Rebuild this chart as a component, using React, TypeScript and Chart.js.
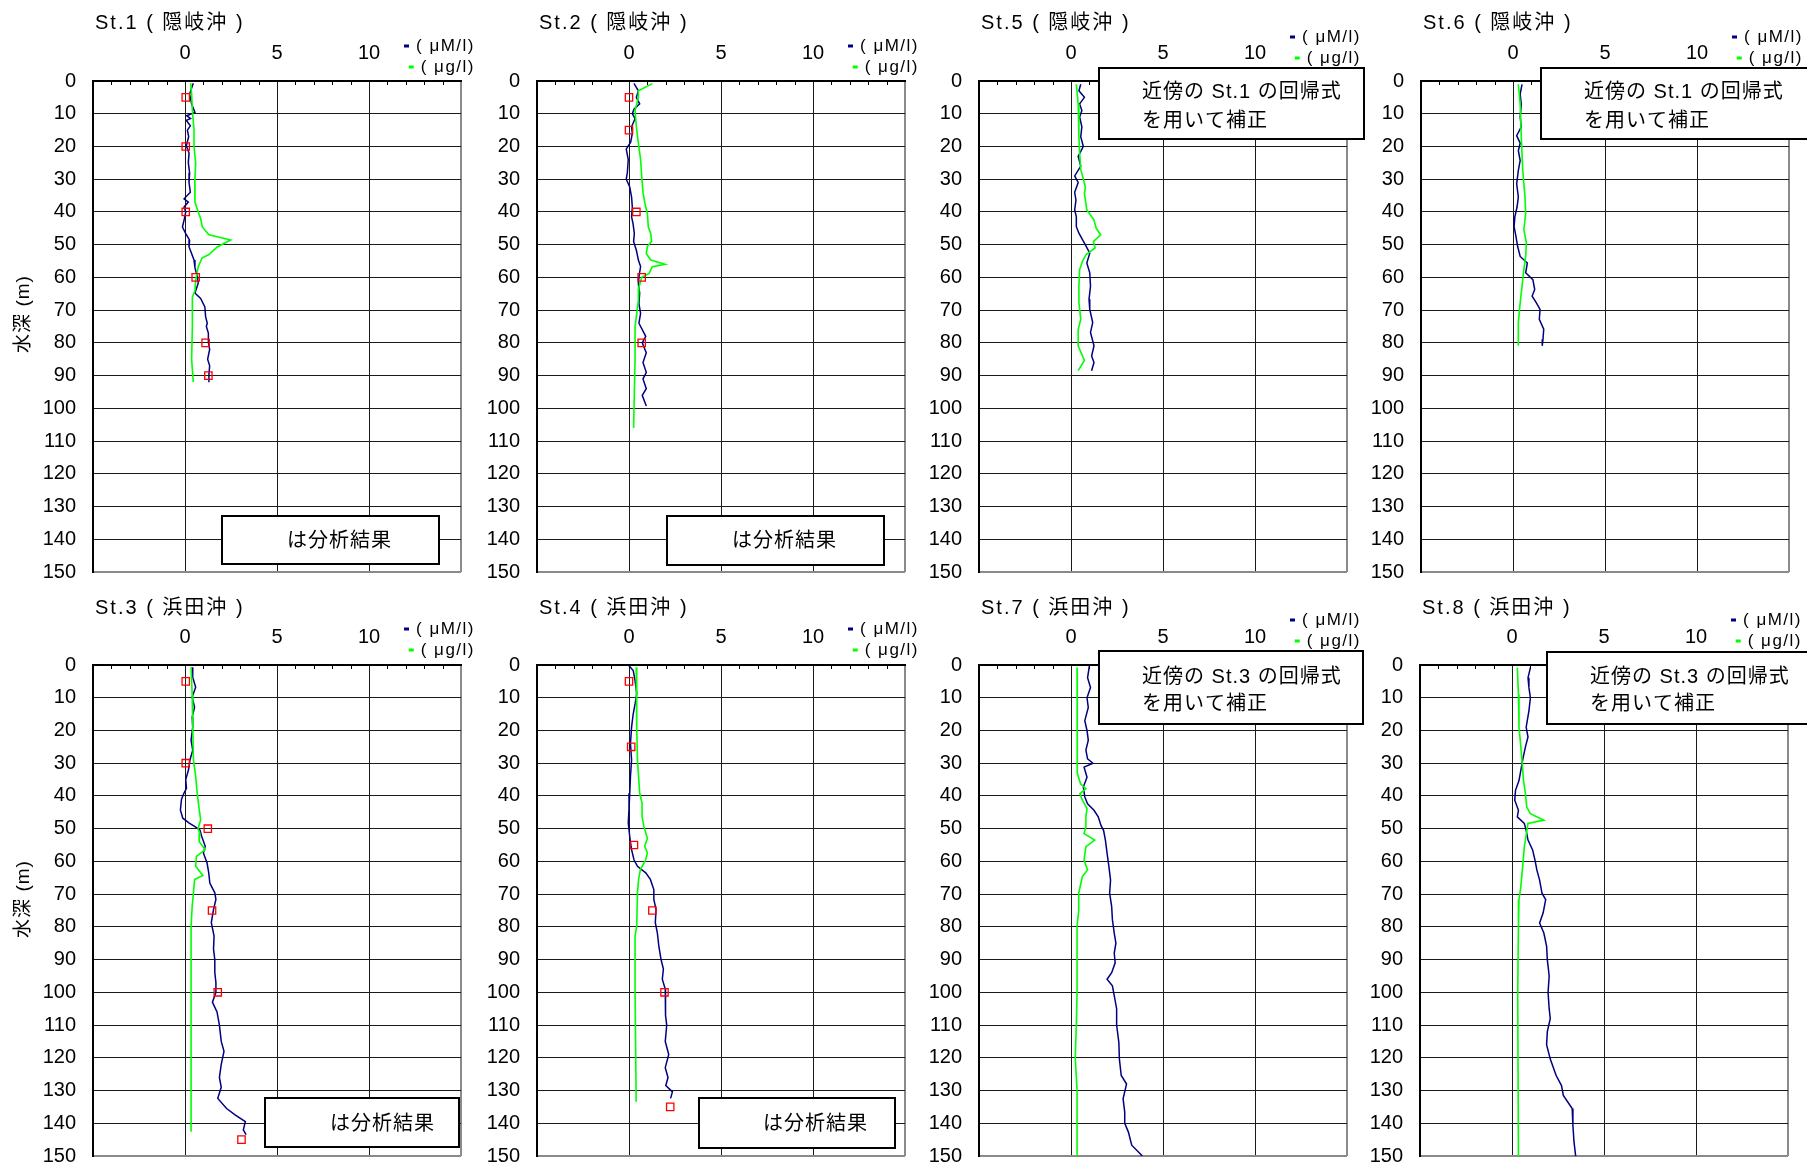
import React, { useEffect, useRef } from 'react';
import { Chart, registerables } from 'chart.js';

Chart.register(...registerables);

// ---------------- data ----------------
const xLabelValues = [0, 5, 10];
const depthStep = 10;
const depthAxisTitle = '水深 (m)';
const legendLabels = ['( μM/l)', '( μg/l)'];
const stationTitles = [
  'St.1 ( 隠岐沖 )', 'St.2 ( 隠岐沖 )', 'St.5 ( 隠岐沖 )', 'St.6 ( 隠岐沖 )',
  'St.3 ( 浜田沖 )', 'St.4 ( 浜田沖 )', 'St.7 ( 浜田沖 )', 'St.8 ( 浜田沖 )',
];
const analysisNote = ['は分析結果'];
const regressNoteSt1 = ['近傍の St.1 の回帰式', 'を用いて補正'];
const regressNoteSt3 = ['近傍の St.3 の回帰式', 'を用いて補正'];

// St.1
const st1BlueDepth = [0.7, 4, 7, 9.6, 10.6, 11.5, 12, 13.7, 15, 17, 19.8, 22, 25, 28, 31, 34, 36, 37, 38.5, 40, 42.5, 44.6, 46.6, 48.6, 50.7, 52, 54.7, 57, 59.8, 61.8, 64.8, 66.4, 69, 72, 74, 75, 77, 79.8, 82, 85, 87, 89.7, 92];
const st1BlueValue = [0.45, 0.25, 0.36, 0.54, 0.09, 0.3, 0.07, 0.29, 0.13, 0.2, 0.07, 0.22, 0.18, 0.25, 0.22, 0.29, -0.05, 0.18, -0.05, 0.04, -0.05, -0.14, 0.04, 0.25, 0.22, 0.31, 0.49, 0.54, 0.67, 0.72, 0.54, 0.85, 1.08, 1.12, 1.21, 1.16, 1.27, 1.27, 1.34, 1.23, 1.34, 1.3, 1.3];
const st1GreenDepth = [0.7, 4, 9, 15, 20, 25, 31, 37, 40, 42, 44.6, 47, 48.6, 50.7, 53, 54, 56.7, 61, 64, 66, 75, 85, 92];
const st1GreenValue = [0.31, 0.36, 0.4, 0.49, 0.49, 0.58, 0.53, 0.54, 0.72, 0.85, 0.94, 1.3, 2.48, 1.75, 1.3, 0.94, 0.72, 0.58, 0.54, 0.4, 0.4, 0.36, 0.45];
const st1SampleDepth = [5, 20, 40, 60, 80, 90];
const st1SampleValue = [0.04, 0.04, 0.04, 0.58, 1.12, 1.27];

// St.2
const st2BlueDepth = [0.7, 3, 5, 7, 8.6, 10, 11.5, 14, 16, 18.7, 20.8, 24, 28, 30, 32.4, 35.5, 38.5, 41.5, 43.6, 46.6, 49, 51.7, 54.7, 56.7, 59.8, 62, 64.8, 68, 71, 74, 78, 80, 83, 86, 89, 91, 94, 96, 99.3];
const st2BlueValue = [0.27, 0.51, 0.4, 0.58, 0.27, 0.18, 0.33, 0.14, 0.18, 0.09, -0.15, -0.04, -0.09, -0.15, 0.04, 0.14, 0.18, 0.14, 0.22, 0.29, 0.25, 0.4, 0.51, 0.63, 0.54, 0.51, 0.58, 0.54, 0.63, 0.54, 0.91, 0.72, 0.94, 0.76, 0.94, 0.76, 0.94, 0.72, 0.94];
const st2GreenDepth = [0.8, 3, 5, 9, 14, 19, 24, 29, 34, 37.5, 40.5, 44.6, 46.6, 49, 50.5, 52.7, 54.7, 56, 56.7, 58.8, 60, 63, 66.9, 72, 75, 80, 85, 95, 106];
const st2GreenValue = [1.27, 0.51, 0.51, 0.33, 0.4, 0.51, 0.63, 0.69, 0.76, 0.87, 1.0, 1.05, 1.18, 1.23, 1.0, 0.94, 1.18, 1.96, 1.27, 1.09, 0.69, 0.54, 0.51, 0.4, 0.33, 0.33, 0.33, 0.29, 0.25];
const st2SampleDepth = [5, 15, 40, 60, 80];
const st2SampleValue = [0, 0, 0.4, 0.69, 0.69];

// St.5
const st5BlueDepth = [1, 3, 5, 7, 9, 11, 14, 17, 20, 23, 26, 29, 31, 34, 36.4, 39.4, 41.5, 44.5, 46.5, 49.5, 52.6, 55.6, 58.6, 62.7, 66.7, 69.8, 73.8, 76.8, 80.9, 84, 86, 88.5];
const st5BlueValue = [0.53, 0.43, 0.73, 0.47, 0.59, 0.47, 0.59, 0.53, 0.67, 0.39, 0.53, 0.2, 0.39, 0.2, 0.27, 0.2, 0.29, 0.29, 0.43, 0.73, 1.02, 0.86, 1.02, 1.06, 0.98, 1.02, 1.18, 1.06, 1.25, 1.12, 1.25, 1.12];
const st5GreenDepth = [1, 7, 17, 22, 27, 32.4, 34.4, 39.4, 42.5, 45, 47, 49, 51, 53, 55, 57.6, 62.7, 67.7, 72.8, 76, 80.9, 85.4, 88.5];
const st5GreenValue = [0.29, 0.39, 0.43, 0.47, 0.53, 0.78, 0.73, 0.86, 1.25, 1.37, 1.61, 1.22, 1.31, 0.82, 0.63, 0.47, 0.43, 0.43, 0.53, 0.39, 0.39, 0.73, 0.39];

// St.6
const st6BlueDepth = [1, 4, 7, 11, 14, 16.7, 19, 21.3, 24.3, 27.3, 31.4, 35.4, 38.5, 41.5, 44.5, 47.5, 50.5, 53.6, 55.6, 58.6, 60.7, 63.7, 65.7, 67.8, 69.8, 72.8, 75.8, 78.9, 80.9];
const st6BlueValue = [0.49, 0.39, 0.45, 0.39, 0.45, 0.2, 0.39, 0.29, 0.39, 0.29, 0.2, 0.29, 0.22, 0.1, 0.06, 0.16, 0.25, 0.39, 0.78, 0.69, 1.08, 1.18, 1.04, 1.27, 1.47, 1.43, 1.67, 1.63, 1.59];
const st6GreenDepth = [1, 7, 17, 27.3, 35.4, 40.4, 45.5, 49.5, 53.6, 57.6, 62.7, 67.7, 73.8, 80.9];
const st6GreenValue = [0.29, 0.39, 0.45, 0.53, 0.65, 0.69, 0.59, 0.73, 0.69, 0.59, 0.49, 0.39, 0.29, 0.29];

// St.3
const st3BlueDepth = [0.7, 3.7, 6.8, 9.8, 12.9, 15.9, 19, 23, 26, 29, 32, 35, 37.7, 39.2, 41, 44.3, 46.8, 48.3, 49.3, 50.4, 52.4, 55.4, 57.4, 60.5, 63.5, 66.6, 69.6, 71.6, 74.7, 78.7, 82.8, 86.8, 90, 94, 97, 100, 103, 106, 110, 115, 118, 122, 126, 129, 132.4, 135.5, 137.5, 139.5, 142, 143.5];
const st3BlueValue = [0.39, 0.42, 0.58, 0.39, 0.52, 0.39, 0.42, 0.33, 0.42, 0.27, 0.19, 0.04, 0.08, -0.06, -0.19, -0.25, -0.12, 0.23, 0.52, 0.81, 0.91, 1.1, 1.0, 1.2, 1.29, 1.35, 1.62, 1.68, 1.55, 1.43, 1.58, 1.55, 1.62, 1.62, 1.68, 1.68, 1.49, 1.74, 1.87, 1.97, 2.12, 1.97, 1.87, 1.97, 1.78, 2.26, 2.74, 3.28, 3.17, 3.32];
const st3GreenDepth = [0.7, 9, 19, 29, 34, 39, 44, 47.3, 50, 51.5, 54, 56.4, 58.5, 61.5, 64.3, 65.5, 69.6, 73.7, 80, 90, 100, 120, 142.6];
const st3GreenValue = [0.33, 0.39, 0.42, 0.46, 0.58, 0.66, 0.77, 0.85, 0.71, 0.81, 0.77, 1.1, 0.62, 0.58, 0.97, 0.52, 0.46, 0.39, 0.33, 0.33, 0.33, 0.33, 0.33];
const st3SampleDepth = [5, 30, 50, 75, 100, 145];
const st3SampleValue = [0.04, 0.04, 1.24, 1.47, 1.78, 3.07];

// St.4
const st4BlueDepth = [0.2, 1.7, 4.8, 8.8, 11.9, 14.9, 19, 24, 29, 34, 39.2, 44, 48.3, 52.4, 56.4, 59.5, 61.5, 63.5, 65.5, 68.6, 71.6, 74.7, 78.7, 81.8, 85.8, 89.9, 92.9, 96, 99, 103, 107, 110, 115, 119, 123, 126, 128.5, 130.4, 132.4];
const st4BlueValue = [0, 0.23, 0.33, 0.42, 0.33, 0.23, 0.14, 0.08, 0.14, 0.08, 0.04, 0, -0.04, 0.04, 0.14, 0.27, 0.46, 0.91, 1.16, 1.35, 1.35, 1.47, 1.43, 1.54, 1.62, 1.74, 1.87, 1.81, 1.97, 1.97, 2.0, 2.05, 1.97, 2.16, 1.97, 2.12, 2.0, 2.36, 2.26];
const st4GreenDepth = [0.7, 8.8, 19, 29, 39, 42.3, 46.3, 49.3, 53, 55.4, 57.4, 59.5, 62.5, 65.5, 69.6, 79.7, 82.8, 100, 133.4];
const st4GreenValue = [0.39, 0.42, 0.42, 0.46, 0.58, 0.71, 0.71, 0.81, 1.0, 0.85, 1.0, 0.91, 0.62, 0.52, 0.46, 0.42, 0.33, 0.33, 0.39];
const st4SampleDepth = [5, 25, 55, 75, 100, 135];
const st4SampleValue = [0, 0.12, 0.27, 1.27, 1.93, 2.24];

// St.7
const st7BlueDepth = [0.3, 3.9, 6.9, 10, 13, 17, 20, 23, 26, 28.7, 30, 31.2, 34.3, 37.3, 40.3, 42.4, 44.4, 46.4, 49, 50.5, 53.5, 57.5, 61.6, 65.7, 69.7, 73.8, 77.8, 81.9, 85, 88, 91, 94, 96, 98, 101, 105, 110, 115.3, 120.4, 125.4, 128, 132.5, 136.6, 140, 142.7, 146.7, 150];
const st7BlueValue = [1.0, 0.9, 1.06, 0.87, 0.94, 0.75, 0.87, 0.94, 0.81, 0.9, 1.19, 0.71, 0.87, 0.67, 0.75, 0.9, 1.25, 1.48, 1.63, 1.77, 1.87, 1.96, 2.06, 2.15, 2.1, 2.21, 2.25, 2.35, 2.44, 2.35, 2.4, 2.21, 1.96, 2.25, 2.35, 2.48, 2.48, 2.6, 2.63, 2.73, 3.02, 2.83, 2.92, 2.92, 3.12, 3.3, 3.88];
const st7GreenDepth = [0.8, 10, 20, 27, 33, 36.3, 37.8, 39.3, 41.3, 43.9, 46.4, 49.4, 51.5, 53.5, 55.5, 59.6, 62.6, 64.6, 69.7, 75, 79.8, 90, 100, 110, 120, 130, 150];
const st7GreenValue = [0.33, 0.33, 0.33, 0.33, 0.37, 0.52, 0.81, 0.48, 0.62, 0.87, 0.81, 0.81, 0.71, 1.29, 0.81, 0.71, 0.9, 0.62, 0.42, 0.42, 0.33, 0.33, 0.33, 0.29, 0.23, 0.33, 0.33];

// St.8
const st8BlueDepth = [0.8, 3.9, 6.9, 10, 14, 19, 22, 25, 29, 32.2, 35.3, 38.3, 41.3, 44.4, 46.4, 48.4, 50.5, 53.5, 56.5, 59.6, 62.6, 65.7, 69.7, 71.7, 75.8, 78.8, 81.9, 85.9, 90, 95, 100, 105, 108, 112, 116, 120.4, 125.4, 128.5, 131.5, 135.5, 140.6, 145.7, 150];
const st8BlueValue = [1.0, 0.87, 0.92, 1.0, 0.92, 0.77, 0.87, 0.73, 0.58, 0.48, 0.38, 0.19, 0.15, 0.35, 0.29, 0.67, 0.77, 0.87, 1.12, 1.25, 1.35, 1.5, 1.63, 1.83, 1.69, 1.5, 1.73, 1.88, 1.92, 2.02, 1.96, 2.02, 2.08, 1.92, 1.88, 2.08, 2.4, 2.69, 2.79, 3.27, 3.31, 3.37, 3.46];
const st8GreenDepth = [0.8, 9, 19, 25, 29, 35, 39.3, 43.4, 45.4, 47.4, 48.4, 50.5, 55.5, 61.6, 67.7, 71.7, 79.8, 100, 150];
const st8GreenValue = [0.29, 0.35, 0.38, 0.48, 0.54, 0.62, 0.73, 0.8, 1.0, 1.73, 0.87, 0.81, 0.67, 0.58, 0.48, 0.38, 0.35, 0.31, 0.35];

// ---------------- layout ----------------
const FONT = '"Liberation Sans", "Noto Sans CJK JP", sans-serif';
const PLOT_W = 368;
const PLOT_H = 494;
const AXIS_L = 93;
const AXIS_T = 80;
const CANVAS_W = 480;
const CANVAS_H = 600;

type Callout = { x1: number; y1: number; x2: number; y2: number; tx: number; lines: string[]; ly: number[] };
type PanelDef = {
  title: string; left: number; top: number; titleY: number;
  blue: [number[], number[]]; green: [number[], number[]]; red?: [number[], number[]];
  legendY: [number, number]; callout: Callout; yTitleY?: number;
};

const panels: PanelDef[] = [
  { title: stationTitles[0], left: 93, top: 81, titleY: 23, yTitleY: 314, blue: [st1BlueDepth, st1BlueValue], green: [st1GreenDepth, st1GreenValue], red: [st1SampleDepth, st1SampleValue], legendY: [46, 67],
    callout: { x1: 129, y1: 516, x2: 346, y2: 564, tx: 194, lines: analysisNote, ly: [541] } },
  { title: stationTitles[1], left: 537, top: 81, titleY: 23, blue: [st2BlueDepth, st2BlueValue], green: [st2GreenDepth, st2GreenValue], red: [st2SampleDepth, st2SampleValue], legendY: [46, 67],
    callout: { x1: 130, y1: 516, x2: 347, y2: 565, tx: 195, lines: analysisNote, ly: [541] } },
  { title: stationTitles[2], left: 979, top: 81, titleY: 23, blue: [st5BlueDepth, st5BlueValue], green: [st5GreenDepth, st5GreenValue], legendY: [37, 58],
    callout: { x1: 120, y1: 68, x2: 385, y2: 139, tx: 163, lines: regressNoteSt1, ly: [92, 121] } },
  { title: stationTitles[3], left: 1421, top: 81, titleY: 23, blue: [st6BlueDepth, st6BlueValue], green: [st6GreenDepth, st6GreenValue], legendY: [37, 58],
    callout: { x1: 120, y1: 68, x2: 392, y2: 139, tx: 163, lines: regressNoteSt1, ly: [92, 121] } },
  { title: stationTitles[4], left: 93, top: 665, titleY: 608, yTitleY: 899, blue: [st3BlueDepth, st3BlueValue], green: [st3GreenDepth, st3GreenValue], red: [st3SampleDepth, st3SampleValue], legendY: [629, 650],
    callout: { x1: 172, y1: 1098, x2: 366, y2: 1147, tx: 237, lines: analysisNote, ly: [1124] } },
  { title: stationTitles[5], left: 537, top: 665, titleY: 608, blue: [st4BlueDepth, st4BlueValue], green: [st4GreenDepth, st4GreenValue], red: [st4SampleDepth, st4SampleValue], legendY: [629, 650],
    callout: { x1: 162, y1: 1098, x2: 358, y2: 1148, tx: 226, lines: analysisNote, ly: [1124] } },
  { title: stationTitles[6], left: 979, top: 665, titleY: 608, blue: [st7BlueDepth, st7BlueValue], green: [st7GreenDepth, st7GreenValue], legendY: [620, 641],
    callout: { x1: 120, y1: 651, x2: 384, y2: 724, tx: 163, lines: regressNoteSt3, ly: [677, 704] } },
  { title: stationTitles[7], left: 1420, top: 665, titleY: 608, blue: [st8BlueDepth, st8BlueValue], green: [st8GreenDepth, st8GreenValue], legendY: [620, 641],
    callout: { x1: 127, y1: 652, x2: 392, y2: 724, tx: 170, lines: regressNoteSt3, ly: [677, 704] } },
];

const zip = (depths: number[], values: number[]) => depths.map((d, i) => ({ x: values[i], y: d }));

function buildConfig(p: PanelDef): any {
  const oy = p.top - AXIS_T;
  const decor = {
    id: 'decor',
    afterDraw(chart: any) {
      const ctx = chart.ctx as CanvasRenderingContext2D;
      const xs = chart.scales.x;
      const area = chart.chartArea;
      ctx.save();
      // minor ticks on the top axis, pointing into the plot
      ctx.strokeStyle = '#000';
      ctx.lineWidth = 1;
      for (let v = -4; v < 15; v++) {
        if (v % 5 === 0) continue;
        const px = Math.round(xs.getPixelForValue(v)) + 0.5;
        ctx.beginPath();
        ctx.moveTo(px, area.top);
        ctx.lineTo(px, area.top + 4);
        ctx.stroke();
      }
      // title
      ctx.fillStyle = '#000';
      ctx.textBaseline = 'middle';
      ctx.textAlign = 'left';
      ctx.font = `20px ${FONT}`;
      (ctx as any).letterSpacing = '2px';
      ctx.fillText(p.title, AXIS_L + 2, p.titleY - oy);
      // depth axis title (first column only)
      if (p.yTitleY !== undefined) {
        ctx.save();
        ctx.font = `19px ${FONT}`;
        (ctx as any).letterSpacing = '1px';
        ctx.translate(24, p.yTitleY - oy);
        ctx.rotate(-Math.PI / 2);
        ctx.textAlign = 'center';
        ctx.fillText(depthAxisTitle, 0, 0);
        ctx.restore();
      }
      // legend
      ctx.font = `17px ${FONT}`;
      (ctx as any).letterSpacing = '1.5px';
      ctx.textAlign = 'left';
      const rightX = area.right + 14;
      const colors = ['#000080', '#00ff00'];
      legendLabels.forEach((lab, i) => {
        const w = ctx.measureText(lab).width;
        const sx = rightX - w;
        const y = p.legendY[i] - oy;
        ctx.fillStyle = colors[i];
        ctx.fillRect(sx - 12, y - 1.5, 5, 3);
        ctx.fillStyle = '#000';
        ctx.fillText(lab, sx, y);
      });
      // callout box
      const c = p.callout;
      const bx = AXIS_L + c.x1;
      const by = c.y1 - oy;
      const bw = c.x2 - c.x1;
      const bh = c.y2 - c.y1;
      ctx.fillStyle = '#fff';
      ctx.fillRect(bx, by, bw, bh);
      ctx.strokeStyle = '#000';
      ctx.lineWidth = 2;
      ctx.strokeRect(bx, by, bw, bh);
      ctx.fillStyle = '#000';
      ctx.font = `20px ${FONT}`;
      (ctx as any).letterSpacing = '1px';
      c.lines.forEach((ln, i) => {
        ctx.fillText(ln, AXIS_L + c.tx, c.ly[i] - oy);
      });
      (ctx as any).letterSpacing = '0px';
      ctx.restore();
    },
  };

  const datasets: any[] = [];
  if (p.red) {
    datasets.push({
      label: 'analysis',
      data: zip(p.red[0], p.red[1]),
      showLine: false,
      pointStyle: 'rect',
      pointRadius: 5.2,
      pointHoverRadius: 5.2,
      borderColor: '#ff0000',
      backgroundColor: 'rgba(0,0,0,0)',
      borderWidth: 1.3,
      order: 0,
    });
  }
  datasets.push({
    label: 'green',
    data: zip(p.green[0], p.green[1]),
    showLine: true,
    pointRadius: 0,
    borderColor: '#00ff00',
    backgroundColor: '#00ff00',
    borderWidth: 1.6,
    tension: 0,
    fill: false,
    order: 1,
  });
  datasets.push({
    label: 'blue',
    data: zip(p.blue[0], p.blue[1]),
    showLine: true,
    pointRadius: 0,
    borderColor: '#000080',
    backgroundColor: '#000080',
    borderWidth: 1.5,
    tension: 0,
    fill: false,
    order: 2,
  });

  return {
    type: 'scatter',
    data: { datasets },
    options: {
      animation: false,
      responsive: false,
      devicePixelRatio: 1,
      events: [],
      layout: { padding: { left: 0, top: 0, right: CANVAS_W - AXIS_L - PLOT_W, bottom: CANVAS_H - AXIS_T - PLOT_H } },
      plugins: { legend: { display: false }, tooltip: { enabled: false }, title: { display: false } },
      scales: {
        x: {
          type: 'linear',
          position: 'top',
          min: -5,
          max: 15,
          afterFit: (s: any) => { s.height = AXIS_T; },
          ticks: {
            stepSize: 5,
            autoSkip: false,
            maxRotation: 0,
            padding: 16,
            color: '#000',
            font: { family: FONT, size: 20 },
            callback: (v: any) => (xLabelValues.includes(Number(v)) ? String(v) : ''),
          },
          grid: {
            drawTicks: false,
            color: (c: any) => (c.tick && c.tick.value === 15 ? '#8a8a8a' : c.tick && c.tick.value === -5 ? 'rgba(0,0,0,0)' : '#1a1a1a'),
            lineWidth: (c: any) => (c.tick && c.tick.value === 15 ? 2 : 1),
          },
          border: { display: true, color: '#000', width: 2 },
        },
        y: {
          type: 'linear',
          position: 'left',
          reverse: true,
          min: 0,
          max: 150,
          afterFit: (s: any) => { s.width = AXIS_L; },
          ticks: {
            stepSize: depthStep,
            autoSkip: false,
            padding: 17,
            color: '#000',
            font: { family: FONT, size: 20 },
          },
          grid: {
            drawTicks: false,
            color: (c: any) => (c.tick && c.tick.value === 150 ? '#8a8a8a' : c.tick && c.tick.value === 0 ? 'rgba(0,0,0,0)' : '#1a1a1a'),
            lineWidth: (c: any) => (c.tick && c.tick.value === 150 ? 2 : 1),
          },
          border: { display: true, color: '#000', width: 2 },
        },
      },
    },
    plugins: [decor],
  };
}

function Panel({ p }: { p: PanelDef }) {
  const ref = useRef<HTMLCanvasElement>(null);
  useEffect(() => {
    if (!ref.current) return;
    const chart = new Chart(ref.current, buildConfig(p));
    return () => chart.destroy();
  }, [p]);
  return (
    <canvas
      ref={ref}
      width={CANVAS_W}
      height={CANVAS_H}
      style={{ position: 'absolute', left: p.left - AXIS_L, top: p.top - AXIS_T, width: CANVAS_W, height: CANVAS_H }}
    />
  );
}

export default function App() {
  return (
    <div style={{ position: 'absolute', left: 0, top: 0, width: 1807, height: 1170, overflow: 'hidden', background: '#fff' }}>
      {panels.map((p, i) => (
        <Panel key={i} p={p} />
      ))}
    </div>
  );
}
